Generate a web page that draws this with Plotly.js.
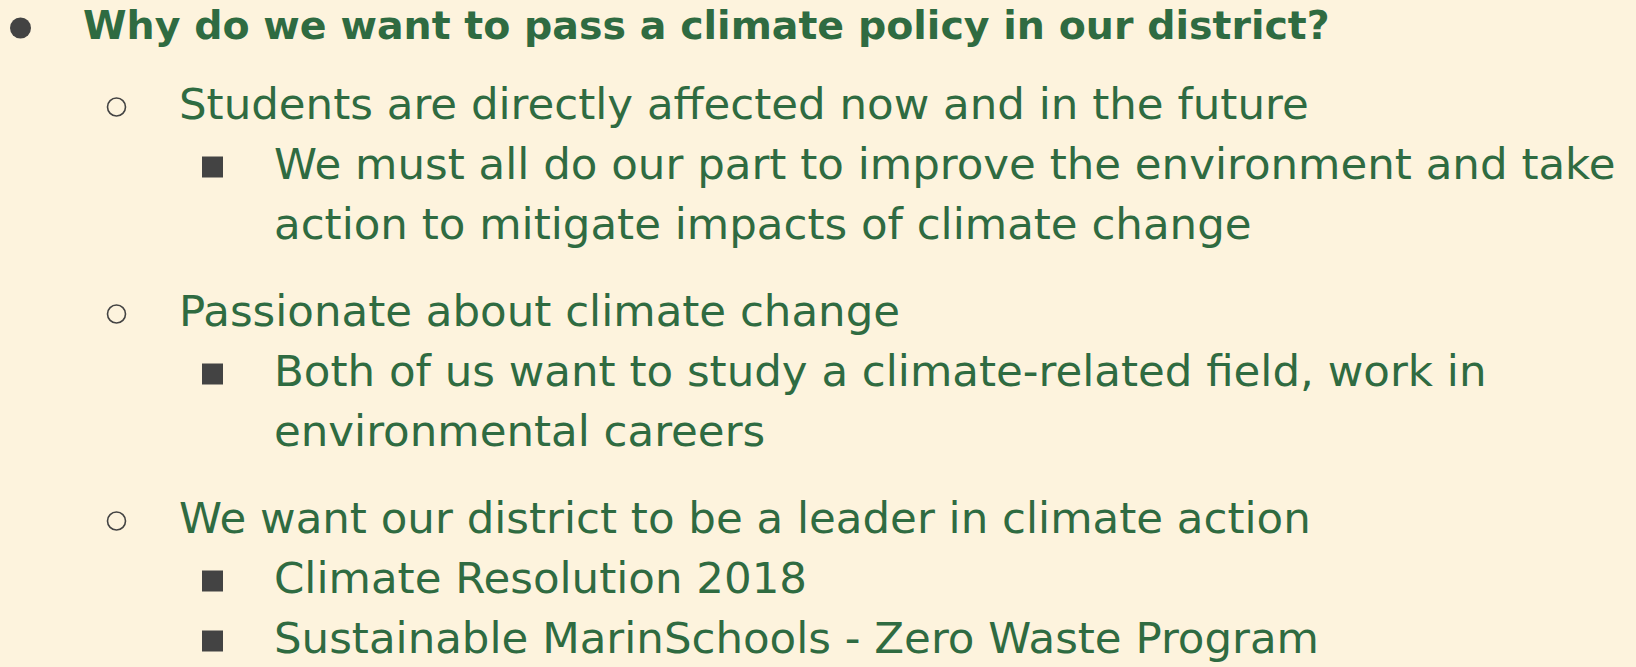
<!DOCTYPE html>
<html>
<head>
<meta charset="utf-8">
<script src="https://cdn.plot.ly/plotly-3.0.1.min.js"></script>
<style>
html,body{margin:0;padding:0;background:#fdf3dd;}
#chart{width:1636px;height:667px;}
</style>
</head>
<body>
<div id="chart"></div>
<script>
// Slide content: each row's text, its outline level, and whether it starts a bullet
const rowTexts = [
  "Why do we want to pass a climate policy in our district?",
  "Students are directly affected now and in the future",
  "We must all do our part to improve the environment and take",
  "action to mitigate impacts of climate change",
  "Passionate about climate change",
  "Both of us want to study a climate-related field, work in",
  "environmental careers",
  "We want our district to be a leader in climate action",
  "Climate Resolution 2018",
  "Sustainable MarinSchools - Zero Waste Program"
];
const rowLevels = [0, 1, 2, 2, 1, 2, 2, 1, 2, 2];
const rowHasBullet = [true, true, true, false, true, true, false, true, true, true];

// Styling / layout (not data)
const W = 1636, H = 667;
const GREEN = "#2f6b41";
const BULLET = "#434343";
const textX = [81, 177, 272];
const bulletX = [20.5, 116.5, 212.5];
const bulletSymbol = ["circle", "circle-open", "square"];
const bulletSize = [21, 18, 21];
const fontFamily = "DejaVu Sans, Noto Sans, sans-serif";
const fontSize = [39.5, 43.5, 43.5];

// compute row y positions from structure
const rowY = [];
let y = 24;
for (let i = 0; i < rowTexts.length; i++) {
  if (i === 0) { y = 25; }
  else if (i === 1) { y += 79; }
  else {
    y += 60;
    if (rowLevels[i] === 1) y += 27;
  }
  rowY.push(y);
}

const annotations = rowTexts.map((t, i) => ({
  x: textX[rowLevels[i]], y: rowY[i], xref: "x", yref: "y",
  xanchor: "left", yanchor: "middle", showarrow: false,
  text: rowLevels[i] === 0 ? "<b>" + t + "</b>" : t,
  font: { family: fontFamily, size: fontSize[rowLevels[i]], color: GREEN,
          weight: rowLevels[i] === 0 ? 700 : 400 }
}));

const traces = [0, 1, 2].map(lv => {
  const xs = [], ys = [];
  rowTexts.forEach((t, i) => {
    if (rowLevels[i] === lv && rowHasBullet[i]) { xs.push(bulletX[lv]); ys.push(rowY[i] + 3); }
  });
  return {
    x: xs, y: ys, mode: "markers", type: "scatter", hoverinfo: "skip",
    marker: { symbol: bulletSymbol[lv], size: bulletSize[lv], color: BULLET,
              line: { color: BULLET, width: lv === 1 ? 1.6 : 0 } }
  };
});

const layout = {
  width: W, height: H,
  margin: { l: 0, r: 0, t: 0, b: 0 },
  paper_bgcolor: "#fdf3dd", plot_bgcolor: "#fdf3dd",
  showlegend: false,
  xaxis: { range: [0, W], visible: false, fixedrange: true },
  yaxis: { range: [H, 0], visible: false, fixedrange: true },
  annotations: annotations
};

Plotly.newPlot("chart", traces, layout, { displayModeBar: false, staticPlot: true });
</script>
</body>
</html>
